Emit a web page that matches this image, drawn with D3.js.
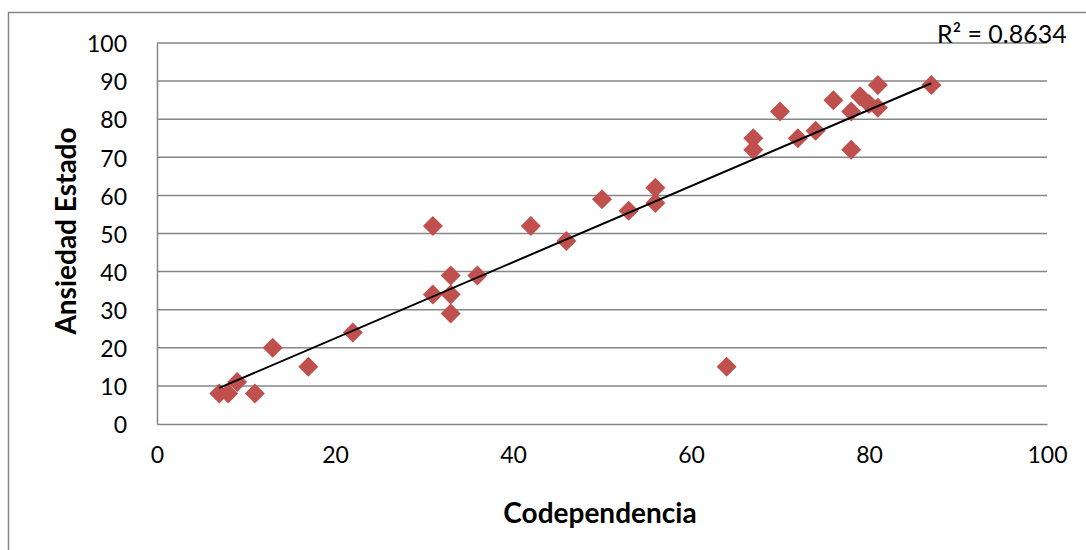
<!DOCTYPE html>
<html>
  <head>
    <meta http-equiv="Content-Type" content="text/html;charset=utf-8">
    <title>Codependencia vs Ansiedad Estado</title>
    <script type="text/javascript" src="https://d3js.org/d3.v7.min.js"></script>
    <style>
      html, body {
        margin: 0;
        padding: 0;
        background: #fff;
      }
      text {
        font-family: Lato, "Open Sans", sans-serif;
        fill: #000;
      }
      .grid line {
        stroke: #868686;
        stroke-width: 1.5px;
      }
      .axis path, .axis line {
        fill: none;
        stroke: #868686;
        stroke-width: 1.5px;
      }
      .axis text {
        font-size: 23px;
      }
      .title {
        font-size: 28px;
        font-weight: bold;
      }
      path.trend {
        fill: none;
        stroke: #000;
        stroke-width: 2px;
      }
    </style>
  </head>
  <body>
    <script type="text/javascript">

// data
var codependencia = [7, 8, 9, 11, 13, 17, 22, 31, 31, 33, 33, 33, 36, 42, 46, 50, 53, 56, 56, 64,
                     67, 67, 70, 72, 74, 76, 78, 78, 79, 80, 81, 81, 87];
var ansiedad      = [8, 8, 11, 8, 20, 15, 24, 52, 34, 39, 34, 29, 39, 52, 48, 59, 56, 62, 58, 15,
                     75, 72, 82, 75, 77, 85, 82, 72, 86, 84, 89, 83, 89];
var xTicks = [0, 20, 40, 60, 80, 100];
var yTicks = [0, 10, 20, 30, 40, 50, 60, 70, 80, 90, 100];
var rLabel = "R² = 0.8634";

var rows = codependencia.map(function(c, i) { return { x: c, y: ansiedad[i] }; });

var margin = { left: 157, top: 43 };
var width = 1047 - 157;
var height = 424 - 43;

var x = d3.scaleLinear().domain([0, 100]).range([0, width]);
var y = d3.scaleLinear().domain([0, 100]).range([height, 0]);

var svg = d3.select("body").append("svg")
    .attr("width", 1086).attr("height", 550);

// outer chart border
svg.append("rect")
    .attr("x", 8.5).attr("y", 12.5)
    .attr("width", 1100).attr("height", 600)
    .attr("fill", "none").attr("stroke", "#868686").attr("stroke-width", 1.5);

var g = svg.append("g").attr("transform", "translate(" + margin.left + "," + margin.top + ")");

g.append("g").attr("class", "grid")
  .selectAll("line").data(yTicks.slice(1)).enter().append("line")
    .attr("x1", 0).attr("x2", width)
    .attr("y1", function(d) { return y(d); }).attr("y2", function(d) { return y(d); });

var yAxis = g.append("g").attr("class", "axis y")
    .call(d3.axisLeft(y).tickValues(yTicks).tickSize(0).tickPadding(30));
yAxis.selectAll("text").attr("dy", "0.38em");

var xAxis = g.append("g").attr("class", "axis x")
    .attr("transform", "translate(0," + height + ")")
    .call(d3.axisBottom(x).tickValues(xTicks).tickSize(0).tickPadding(23));

// linear trend line from least squares
var mx = d3.mean(rows, function(d) { return d.x; });
var my = d3.mean(rows, function(d) { return d.y; });
var slope = d3.sum(rows, function(d) { return (d.x - mx) * (d.y - my); }) /
            d3.sum(rows, function(d) { return (d.x - mx) * (d.x - mx); });
var icpt = my - slope * mx;
var xr = d3.extent(rows, function(d) { return d.x; });
var trend = xr.map(function(v) { return { x: v, y: icpt + slope * v }; });

g.selectAll("path.pt").data(rows).enter().append("path")
    .attr("class", "pt")
    .attr("d", d3.symbol().type(d3.symbolSquare).size(200))
    .attr("fill", "#C0504D")
    .attr("transform", function(d) { return "translate(" + x(d.x) + "," + y(d.y) + ") rotate(45)"; });

g.append("path").attr("class", "trend")
    .attr("d", d3.line().x(function(d) { return x(d.x); }).y(function(d) { return y(d.y); })(trend));

svg.append("text")
    .attr("x", 937).attr("y", 43)
    .style("font-size", "25px")
    .text(rLabel);

svg.append("text").attr("class", "title")
    .attr("x", 600).attr("y", 523)
    .attr("text-anchor", "middle")
    .text("Codependencia");

svg.append("text").attr("class", "title")
    .attr("transform", "translate(76,231) rotate(-90)")
    .attr("text-anchor", "middle")
    .text("Ansiedad Estado");

    </script>
  </body>
</html>
